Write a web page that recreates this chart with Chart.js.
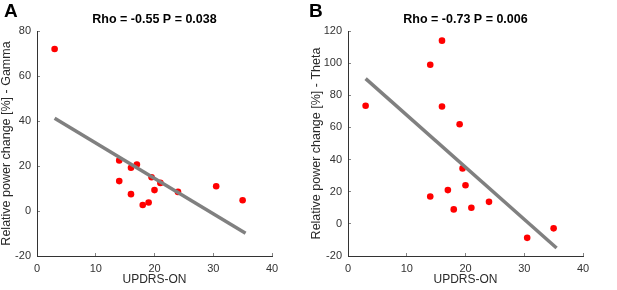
<!DOCTYPE html>
<html>
<head>
<meta charset="utf-8">
<script src="https://cdn.jsdelivr.net/npm/chart.js@4/dist/chart.umd.min.js"></script>
<style>
  html, body { margin:0; padding:0; background:#fff; }
  #wrap { position:relative; width:617px; height:290px; overflow:hidden; }
  .panel { position:absolute; top:0; }
  .letter { position:absolute; top:0px; font:bold 19px "Liberation Sans", Arial, sans-serif; color:#000; }
</style>
</head>
<body>
<div id="wrap">
  <canvas id="chartA" class="panel" width="308" height="290" style="left:0"></canvas>
  <canvas id="chartB" class="panel" width="307" height="290" style="left:310px"></canvas>
  <div class="letter" style="left:4px">A</div>
  <div class="letter" style="left:309px">B</div>
</div>
<script>
// values
const updrsA = [3, 14, 14, 16, 17, 16, 18, 19, 19.5, 20, 21, 24, 30.5, 35];
const gammaA = [72, 22.5, 13.3, 19.2, 20.7, 7.5, 2.7, 3.8, 15, 9.3, 12.5, 8.5, 11, 4.8];
const updrsB = [3, 14, 16, 16, 19, 19.5, 20, 17, 14, 18, 21, 24, 30.5, 35];
const thetaB = [73.5, 99, 114, 73, 62, 34.5, 24, 21, 17, 9, 10, 13.7, -8.7, -2.8];

// least squares line end points
const fitX = [3, 35.5];
const gammaFit = [41.2, -9.9];
const thetaFit = [90.4, -15];

const titleA = 'Rho = -0.55 P = 0.038';
const titleB = 'Rho = -0.73 P = 0.006';

Chart.defaults.font.family = '"Liberation Sans", Arial, sans-serif';
Chart.defaults.color = '#333';

const pts = (xs, ys) => xs.map((x, i) => ({x: x, y: ys[i]}));

function makeChart(id, xs, ys, fitY, title, yLabel, yMax, yWidth, padRight){
  const ctx = document.getElementById(id).getContext('2d');
  return new Chart(ctx, {
    type: 'scatter',
    data: {
      datasets: [
        {
          data: pts(fitX, fitY),
          showLine: true,
          borderColor: '#808080',
          borderWidth: 3.5,
          pointRadius: 0,
          order: 0
        },
        {
          data: pts(xs, ys),
          backgroundColor: '#ff0000',
          borderColor: '#ff0000',
          pointRadius: 3.3,
          borderWidth: 0,
          order: 1
        }
      ]
    },
    options: {
      responsive: false,
      animation: false,
      layout: { padding: { top: 0, right: padRight, bottom: 0, left: 0 } },
      plugins: {
        legend: { display: false },
        tooltip: { enabled: false },
        title: {
          display: true,
          text: title,
          fullSize: false,
          color: '#000',
          font: { size: 12.5, weight: 'bold', lineHeight: 1.2 },
          padding: { top: 12.5, bottom: 3.5 }
        }
      },
      scales: {
        x: {
          type: 'linear',
          min: 0, max: 40,
          ticks: { stepSize: 10, padding: 9, font: { size: 11 }, color: '#333' },
          grid: { drawOnChartArea: false, drawTicks: true, tickLength: -3, color: '#666', lineWidth: 0.8 },
          border: { display: true, color: '#333', width: 1 },
          title: { display: true, text: 'UPDRS-ON', color: '#2a2a2a', font: { size: 12, lineHeight: 1.2 }, padding: { top: 0, bottom: 3 } },
          afterFit: s => { s.height = 34; }
        },
        y: {
          min: -20, max: yMax,
          ticks: { stepSize: 20, padding: 9, font: { size: 11 }, color: '#333' },
          grid: { drawOnChartArea: false, drawTicks: true, tickLength: -3, color: '#666', lineWidth: 0.8 },
          border: { display: true, color: '#333', width: 1 },
          title: { display: true, text: yLabel, color: '#2a2a2a', font: { size: 12.5, lineHeight: 1 }, padding: { top: 0, bottom: 0 } },
          afterFit: s => { s.width = yWidth; }
        }
      }
    }
  });
}

makeChart('chartA', updrsA, gammaA, gammaFit, titleA, 'Relative power change [%] - Gamma', 80, 37, 36);
makeChart('chartB', updrsB, thetaB, thetaFit, titleB, 'Relative power change [%] - Theta', 120, 38, 34);
</script>
</body>
</html>
